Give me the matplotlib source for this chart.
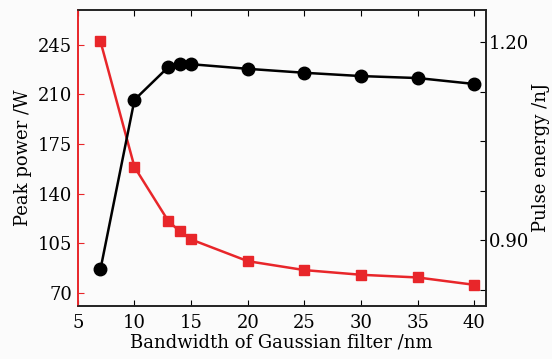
import matplotlib
matplotlib.use("Agg")
import matplotlib.pyplot as plt

bandwidth = [7, 10, 13, 14, 15, 20, 25, 30, 35, 40]
peak_power = [247.3, 158.7, 120.4, 113.4, 107.6, 92.3, 86.0, 82.7, 80.8, 75.6]
pulse_energy = [0.856, 1.113, 1.163, 1.167, 1.167, 1.160, 1.154, 1.149, 1.146, 1.137]

x_ticks = [5, 10, 15, 20, 25, 30, 35, 40]
left_ticks = [70, 105, 140, 175, 210, 245]
right_ticks = [0.825, 0.90, 0.975, 1.05, 1.125, 1.20]
right_labels = ["", "0.90", "", "", "", "1.20"]

RED = "#e8262a"
plt.rcParams['font.family'] = ['DejaVu Serif']

fig = plt.figure(figsize=(5.52, 3.59), dpi=100, facecolor="#fbfbfb")
ax1 = fig.add_axes([0.141, 0.1485, 0.739, 0.825])
ax1.set_facecolor("#fbfbfb")
ax2 = ax1.twinx()

ax1.plot(bandwidth, peak_power, color=RED, lw=1.8, marker="s", ms=7.5,
         markeredgecolor=RED, markerfacecolor=RED, zorder=3)
ax2.plot(bandwidth, pulse_energy, color="black", lw=1.8, marker="o", ms=9,
         zorder=3)

ax1.set_xlim(5, 41)
ax1.set_ylim(60.9, 269.8)
ax2.set_ylim(0.8006, 1.250)

ax1.set_xticks(x_ticks)
ax1.set_yticks(left_ticks)
ax2.set_yticks(right_ticks)
ax2.set_yticklabels(right_labels)

ax1.tick_params(axis="x", direction="in", length=4, top=True, labelsize=13, pad=6)
ax1.tick_params(axis="y", direction="in", length=4, color=RED, labelsize=13, pad=4)
ax2.tick_params(axis="y", direction="in", length=4, labelsize=13, pad=2)

for ax in (ax1, ax2):
    for s in ax.spines.values():
        s.set_linewidth(1.2)
        s.set_color("#222222")
ax1.spines["left"].set_color(RED)
ax2.spines["left"].set_color(RED)

ax1.set_xlabel("Bandwidth of Gaussian filter /nm", fontsize=13, labelpad=1)
ax1.set_ylabel("Peak power /W", fontsize=13, labelpad=4)
ax2.set_ylabel("Pulse energy /nJ", fontsize=13, rotation=90, labelpad=2)

fig.savefig("out.png", dpi=100, facecolor=fig.get_facecolor())
